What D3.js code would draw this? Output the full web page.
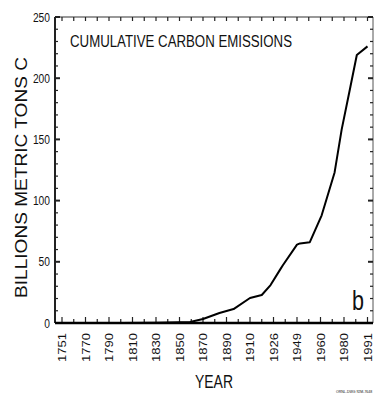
<!DOCTYPE html>
<html><head><meta charset="utf-8">
<script src="https://cdn.jsdelivr.net/npm/d3@7"></script>
<style>body{margin:0;background:#fff}svg{display:block}text{font-family:"Liberation Sans",Arial,sans-serif;fill:#111}</style>
</head><body><svg id="c" width="384" height="395"></svg>
<script>
const tickYears = [1751,1770,1790,1810,1830,1850,1870,1890,1910,1926,1949,1960,1980,1991];
const yTicks = [0,50,100,150,200,250];
const years  = [1751,1800,1830,1850,1859,1870,1884,1896,1910,1918,1924,1932,1935,1949,1950.4,1955,1961,1972,1978,1983,1986,1991];
const values = [0,0.1,0.3,0.6,0.8,3.3,8.2,11.4,20.4,22.9,31,43,47,64,65,66,88,123,158,193,219,226];

const W=384,H=395, L=55,R=373,T=17,B=323, X0=62, X1=367.5;
const svg=d3.select("#c");
const x=d3.scaleLinear().domain(tickYears)
  .range(tickYears.map((_,i)=>X0+i*(X1-X0)/(tickYears.length-1)));
const y=d3.scaleLinear().domain([0,250]).range([B,T]);

// frame top/right
svg.append("line").attr("x1",L).attr("x2",R).attr("y1",T).attr("y2",T).attr("stroke","#333").attr("stroke-width",1.2);
svg.append("line").attr("x1",R).attr("x2",R).attr("y1",T).attr("y2",B).attr("stroke","#555").attr("stroke-width",1);

// minor y ticks
const minor=d3.range(0,251,10);
svg.append("g").selectAll("line").data(minor).join("line")
  .attr("x1",L).attr("x2",d=>L+(d%50===0?5:3)).attr("y1",d=>y(d)).attr("y2",d=>y(d))
  .attr("stroke","#222").attr("stroke-width",d=>d%50===0?2:1.2);
svg.append("g").selectAll("line").data(minor).join("line")
  .attr("x1",R).attr("x2",d=>R-(d%50===0?5:3)).attr("y1",d=>y(d)).attr("y2",d=>y(d))
  .attr("stroke","#222").attr("stroke-width",d=>d%50===0?2:1.2);

// x ticks at half steps
const halfIdx=d3.range(0,tickYears.length-0.5,0.5);
const pos=i=>X0+i*(X1-X0)/(tickYears.length-1);
svg.append("g").selectAll("line").data(halfIdx).join("line")
  .attr("x1",pos).attr("x2",pos).attr("y1",T).attr("y2",T+4).attr("stroke","#222").attr("stroke-width",1.2);
svg.append("g").selectAll("line").data(halfIdx).join("line")
  .attr("x1",pos).attr("x2",pos).attr("y1",B).attr("y2",d=>B-(Number.isInteger(d)?6:4)).attr("stroke","#222").attr("stroke-width",1.2);

// left and bottom axes
svg.append("line").attr("x1",L).attr("x2",L).attr("y1",T).attr("y2",B).attr("stroke","#222").attr("stroke-width",2);
svg.append("line").attr("x1",L).attr("x2",R).attr("y1",B).attr("y2",B).attr("stroke","#000").attr("stroke-width",2.5);

// y tick labels
svg.append("g").selectAll("text").data(yTicks).join("text")
  .attr("x",50).attr("y",d=>y(d)+4.5).attr("text-anchor","end")
  .attr("font-size",12).attr("textLength",d=>String(d).length*5.7).attr("lengthAdjust","spacingAndGlyphs").text(d=>d);

// x tick labels
svg.append("g").selectAll("text").data(tickYears).join("text")
  .attr("transform",d=>`translate(${x(d)+4},333) rotate(-90)`).attr("text-anchor","end")
  .attr("font-size",11.5).attr("textLength",29).attr("lengthAdjust","spacingAndGlyphs").text(d=>d);

// curve
const line=d3.line().x((d,i)=>x(years[i])).y(d=>y(d));
svg.append("path").datum(values).attr("d",line).attr("fill","none").attr("stroke","#000").attr("stroke-width",2).attr("stroke-linejoin","round");

// titles
svg.append("text").attr("x",70).attr("y",47).attr("font-size",16).attr("textLength",222).attr("lengthAdjust","spacingAndGlyphs").text("CUMULATIVE CARBON EMISSIONS");
svg.append("text").attr("transform","translate(27,177.5) rotate(-90)").attr("text-anchor","middle")
  .attr("font-size",16.5).attr("textLength",241).attr("lengthAdjust","spacingAndGlyphs").text("BILLIONS METRIC TONS C");
svg.append("text").attr("x",214).attr("y",388).attr("text-anchor","middle").attr("font-size",19).attr("textLength",38).attr("lengthAdjust","spacingAndGlyphs").text("YEAR");
svg.append("text").attr("x",352).attr("y",310).attr("font-size",27).attr("textLength",12).attr("lengthAdjust","spacingAndGlyphs").text("b");
svg.append("text").attr("x",336).attr("y",393).attr("font-size",3.5).attr("fill","#555").text("ORNL-DWG 92M-7648");
</script></body></html>
